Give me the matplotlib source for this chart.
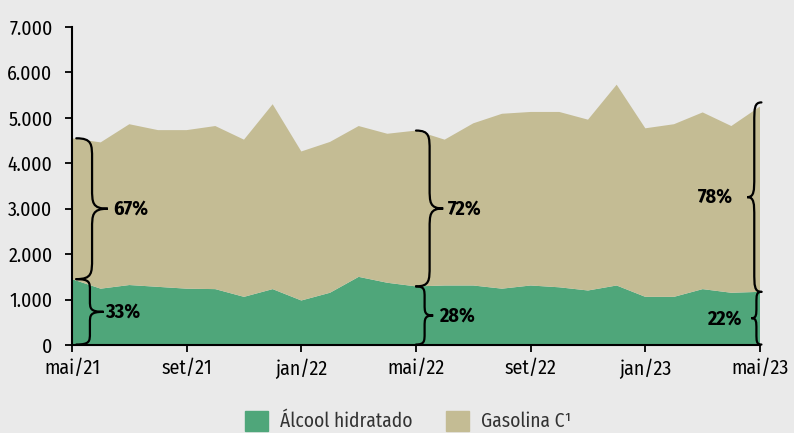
import matplotlib.pyplot as plt
from matplotlib.path import Path
from matplotlib.patches import PathPatch, Patch
from matplotlib import font_manager

names = {f.name for f in font_manager.fontManager.ttflist}
fam = 'DejaVu Sans'
for cand in ['Fira Sans Condensed', 'Fira Sans Extra Condensed', 'Roboto Condensed',
             'Open Sans Condensed', 'Liberation Sans Narrow']:
    if cand in names:
        fam = cand
        break
plt.rcParams['font.family'] = [fam, 'DejaVu Sans']

# dados mensais mai/21 .. mai/23 (mil m3)
alcool = [1450, 1240, 1320, 1280, 1240, 1230, 1060, 1230, 980, 1150, 1500, 1370, 1290,
          1310, 1310, 1240, 1310, 1270, 1200, 1310, 1060, 1060, 1230, 1150, 1170]
total = [4550, 4460, 4860, 4730, 4730, 4820, 4520, 5300, 4260, 4470, 4820, 4650, 4720,
         4520, 4880, 5090, 5130, 5130, 4960, 5730, 4770, 4860, 5120, 4820, 5250]
gasolina = [t - a for t, a in zip(total, alcool)]
tick_pos = [0, 4, 8, 12, 16, 20, 24]
tick_lab = ['mai/21', 'set/21', 'jan/22', 'mai/22', 'set/22', 'jan/23', 'mai/23']
y_ticks = [0, 1000, 2000, 3000, 4000, 5000, 6000, 7000]
y_lab = ['0', '1.000', '2.000', '3.000', '4.000', '5.000', '6.000', '7.000']

verde = '#4fa67a'
bege = '#c4bc94'
fundo = '#eaeaea'

fig = plt.figure(figsize=(7.94, 4.33), dpi=100, facecolor=fundo)
ax = fig.add_axes([72 / 794, 1 - 345 / 433, (760 - 72) / 794, (345 - 27) / 433])
ax.set_facecolor(fundo)

x = list(range(len(alcool)))
ax.stackplot(x, alcool, gasolina, colors=[verde, bege], linewidth=0)
ax.set_xlim(0, 24)
ax.set_ylim(0, 7000)
ax.set_xticks(tick_pos)
ax.set_xticklabels(tick_lab)
ax.set_yticks(y_ticks)
ax.set_yticklabels(y_lab)
ax.tick_params(labelsize=14.3, length=5, width=1.3, colors='black')
ax.tick_params(axis='x', pad=5)
ax.tick_params(axis='y', pad=9)
for s in ['top', 'right']:
    ax.spines[s].set_visible(False)
for s in ['left', 'bottom']:
    ax.spines[s].set_linewidth(1.5)


def chave(x0, y0, y1, w, r):
    # chave vertical; w>0 abre para a direita
    ym = (y0 + y1) / 2
    xb = x0 + w / 2
    verts = [(x0, y0), (xb, y0), (xb, y0 + r * 0.3), (xb, y0 + r),
             (xb, ym - r),
             (xb, ym - r * 0.3), (xb, ym), (x0 + w, ym),
             (xb, ym), (xb, ym + r * 0.3), (xb, ym + r),
             (xb, y1 - r),
             (xb, y1 - r * 0.3), (xb, y1), (x0, y1)]
    codes = [Path.MOVETO, Path.CURVE4, Path.CURVE4, Path.CURVE4,
             Path.LINETO,
             Path.CURVE4, Path.CURVE4, Path.CURVE4,
             Path.CURVE4, Path.CURVE4, Path.CURVE4,
             Path.LINETO,
             Path.CURVE4, Path.CURVE4, Path.CURVE4]
    ax.add_patch(PathPatch(Path(verts, codes), fill=False, lw=1.6,
                           ec='black', clip_on=False, capstyle='round'))


fs = 14.5
chave(0.15, 10, alcool[0], 0.95, 250)
chave(0.15, alcool[0], total[0], 1.1, 450)
ax.text(1.15, alcool[0] / 2, '33%', fontsize=fs, fontweight='bold', va='center')
ax.text(1.45, (alcool[0] + total[0]) / 2, '67%', fontsize=fs, fontweight='bold', va='center')

chave(12.0, 10, alcool[12], 0.6, 250)
chave(12.0, alcool[12], total[12], 0.95, 450)
ax.text(12.8, alcool[12] / 2, '28%', fontsize=fs, fontweight='bold', va='center')
ax.text(13.1, (alcool[12] + total[12]) / 2, '72%', fontsize=fs, fontweight='bold', va='center')

chave(24.05, 10, alcool[24], -0.35, 250)
chave(24.05, alcool[24], 5340, -0.5, 450)
ax.text(23.35, alcool[24] / 2, '22%', fontsize=fs, fontweight='bold', va='center', ha='right')
ax.text(23.05, (alcool[24] + 5340) / 2, '78%', fontsize=fs, fontweight='bold', va='center', ha='right')

handles = [Patch(color=verde, label='Álcool hidratado'),
           Patch(color=bege, label='Gasolina C¹')]
fig.legend(handles=handles, loc='center', bbox_to_anchor=(0.5145, 0.027), ncol=2,
           frameon=False, fontsize=14, handlelength=1.18, handleheight=1.18,
           columnspacing=1.7, handletextpad=0.62, labelcolor='#333333',
           borderpad=0)

fig.savefig('out.png', dpi=100, facecolor=fundo)
